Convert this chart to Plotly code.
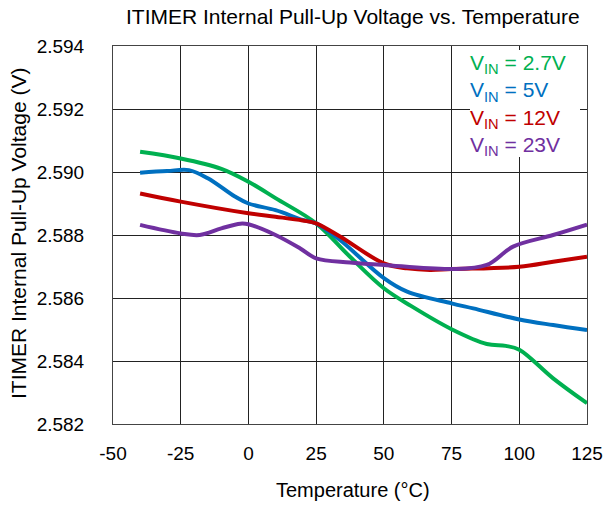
import plotly.graph_objects as go

green_t = [-40, -25, -10, 0, 10, 25, 37.5, 50, 60, 75, 88, 95, 100, 112.5, 125]
green_v = [2.59064, 2.59043, 2.5901, 2.58969, 2.58917, 2.58837, 2.58731, 2.58631, 2.58575,
           2.58501, 2.58454, 2.58448, 2.58436, 2.58345, 2.58266]

blue_t = [-40, -30, -22, -15, -5, 0, 10, 20, 25, 33.8, 50, 58.6, 75, 83, 100, 112.5, 125]
blue_v = [2.58998, 2.59003, 2.59006, 2.5898, 2.58922, 2.58900, 2.58879, 2.58848, 2.58837,
          2.58784, 2.58663, 2.5862, 2.58583, 2.58567, 2.58532, 2.58514, 2.58498]

red_t = [-40, -25, 0, 10, 20, 25, 33.8, 50, 58.6, 67, 75, 100, 112.5, 125]
red_v = [2.58932, 2.58906, 2.58869, 2.58858, 2.58846, 2.58837, 2.58795, 2.5871, 2.58694,
         2.58689, 2.58692, 2.58699, 2.58715, 2.58731]

purple_t = [-40, -25, -18, -10, -3, 0, 10, 19, 25, 37.5, 50, 75, 88, 97.7, 112.5, 125]
purple_v = [2.58832, 2.58805, 2.5880, 2.58821, 2.58836, 2.58834, 2.5880, 2.58758, 2.58726,
            2.58713, 2.58705, 2.58692, 2.58705, 2.58763, 2.5880, 2.58833]

series = [
    ("V<sub>IN</sub> = 2.7V", green_t, green_v, "#00B050"),
    ("V<sub>IN</sub> = 5V", blue_t, blue_v, "#0070C0"),
    ("V<sub>IN</sub> = 12V", red_t, red_v, "#C00000"),
    ("V<sub>IN</sub> = 23V", purple_t, purple_v, "#7030A0"),
]

x_ticks = [-50, -25, 0, 25, 50, 75, 100, 125]
y_ticks = [2.582, 2.584, 2.586, 2.588, 2.590, 2.592, 2.594]

W, H = 606, 507
L, R, T, B = 113, 587, 46, 424

fig = go.Figure()
for name, t, v, c in series:
    fig.add_trace(go.Scatter(x=t, y=v, mode="lines", name=name,
                             line=dict(color=c, width=4, shape="spline", smoothing=1.0)))

font = "Liberation Sans, Arial, sans-serif"
fig.update_layout(
    width=W, height=H,
    margin=dict(l=L, r=W - R, t=T, b=H - B, autoexpand=False),
    paper_bgcolor="white", plot_bgcolor="white",
    showlegend=False,
    font=dict(family=font, size=19, color="black"),
    xaxis=dict(range=[-50, 125], tickvals=x_ticks, ticktext=[str(v) for v in x_ticks],
               showgrid=True, gridcolor="#222222", gridwidth=1,
               showline=True, linecolor="#444444", linewidth=1, mirror=True,
               zeroline=False, ticks="", ticklen=0, automargin=False,
               ticklabelstandoff=12, tickfont=dict(size=19)),
    yaxis=dict(range=[2.582, 2.594], tickvals=y_ticks, ticktext=[f"{v:.3f}" for v in y_ticks],
               showgrid=True, gridcolor="#222222", gridwidth=1,
               showline=True, linecolor="#444444", linewidth=1, mirror=True,
               zeroline=False, ticks="", ticklen=0, automargin=False,
               ticklabelstandoff=24, tickfont=dict(size=19)),
)

# chart title
fig.add_annotation(xref="paper", yref="paper", x=((122 + 583) / 2 - L) / (R - L),
                   y=(B - 16) / (B - T), xanchor="center", yanchor="middle",
                   text="ITIMER Internal Pull-Up Voltage vs. Temperature", showarrow=False,
                   font=dict(size=21, family=font, color="black"))
# x axis title
fig.add_annotation(xref="paper", yref="paper", x=(353 - L) / (R - L),
                   y=(B - 490) / (B - T), xanchor="center", yanchor="middle",
                   text="Temperature (°C)", showarrow=False,
                   font=dict(size=20, family=font, color="black"))
# y axis title
fig.add_annotation(xref="paper", yref="paper", x=(18 - L) / (R - L),
                   y=(B - 234) / (B - T), xanchor="center", yanchor="middle",
                   text="ITIMER Internal Pull-Up Voltage (V)", textangle=-90, showarrow=False,
                   font=dict(size=21, family=font, color="black"))

fig.add_shape(type="rect", xref="paper", yref="paper",
              x0=(470 - L) / (R - L), x1=(580 - L) / (R - L),
              y0=(B - 157) / (B - T), y1=(B - 50) / (B - T),
              fillcolor="white", line=dict(width=0), layer="above")

legend_text = "<br>".join(
    f'<span style="color:{c}">{name}</span>' for name, _, _, c in series)
fig.add_annotation(xref="paper", yref="paper",
                   x=(468 - L) / (R - L), y=(B - 49) / (B - T),
                   xanchor="left", yanchor="top", align="left",
                   text=legend_text, showarrow=False,
                   font=dict(size=21, family=font))

fig.write_html("out.html")
